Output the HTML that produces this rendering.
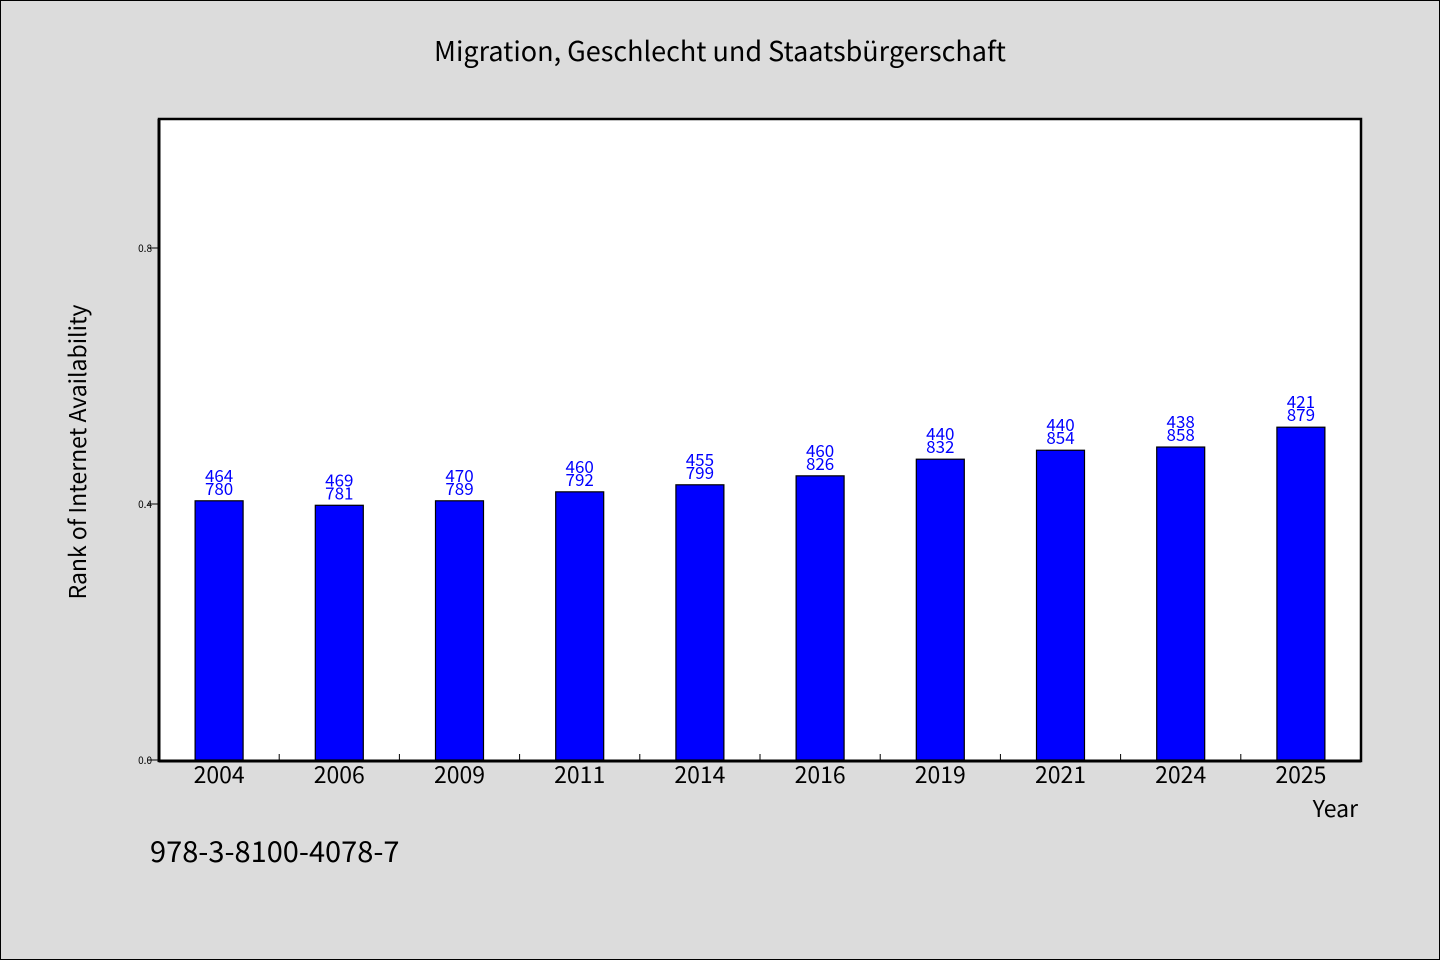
<!DOCTYPE html>
<html><head><meta charset="utf-8"><style>
html,body{margin:0;padding:0;background:#dcdcdc;}
svg{display:block;font-family:"WenQuanYi Zen Hei","Noto Sans CJK SC","Liberation Sans",sans-serif;}
</style></head><body>
<svg id="chart" width="1440" height="960" viewBox="0 0 1440 960">
<rect x="0.5" y="0.5" width="1439" height="959" fill="#dcdcdc" stroke="#000"/>
<text x="720" y="61" text-anchor="middle" font-size="27">Migration, Geschlecht und Staatsbürgerschaft</text>
<rect x="159" y="119" width="1202" height="642" fill="#fff" stroke="#000" stroke-width="2.5"/>
<g id="bars"></g>
<line x1="159" y1="761" x2="1361" y2="761" stroke="#000" stroke-width="3"/>
<line x1="159" y1="119" x2="159" y2="762" stroke="#000" stroke-width="3"/>
<g id="axes"></g>
<text x="86" y="452" text-anchor="middle" font-size="23" transform="rotate(-90 86 452)">Rank of Internet Availability</text>
<text x="1358" y="817" text-anchor="end" font-size="23">Year</text>
<text x="150" y="862" font-size="29">978-3-8100-4078-7</text>
</svg>
<script>
const categories=["2004","2006","2009","2011","2014","2016","2019","2021","2024","2025"];
const values=[0.405,0.398,0.405,0.419,0.430,0.444,0.470,0.484,0.489,0.520];
const labelTop=["464","469","470","460","455","460","440","440","438","421"];
const labelBottom=["780","781","789","792","799","826","832","854","858","879"];
const yTicks=[0.0,0.4,0.8];
const yTickLabels=["0.0","0.4","0.8"];
const NS="http://www.w3.org/2000/svg";
const X0=159,X1=1361,Y0=760,Y1=120,yMax=1.0;
const band=(X1-X0)/categories.length;
function xc(i){return X0+band*(i+0.5);}
function y(v){return Y0-(v/yMax)*(Y0-Y1);}
function mk(tag,attrs,parent,text){const e=document.createElementNS(NS,tag);for(const k in attrs)e.setAttribute(k,attrs[k]);if(text!==undefined)e.textContent=text;parent.appendChild(e);return e;}
const bars=document.getElementById('bars'),axes=document.getElementById('axes');
categories.forEach((c,i)=>{
  const top=y(values[i]);
  const r=mk('rect',{x:xc(i)-24,y:top,width:48,height:Y0-top,fill:'#0000ff',stroke:'#000','stroke-width':1.2},bars);
  
  
  const t1=mk('text',{x:xc(i),y:top-19,'text-anchor':'middle','font-size':17,fill:'#0000ff'},bars,labelTop[i]);
  
  
  const t2=mk('text',{x:xc(i),y:top-6,'text-anchor':'middle','font-size':17,fill:'#0000ff'},bars,labelBottom[i]);
  
  
  const xl=mk('text',{x:xc(i),y:783,'text-anchor':'middle','font-size':23},axes,c);
  
  
  if(i>0){const tk=mk('line',{x1:X0+band*i,x2:X0+band*i,y1:760,y2:754,stroke:'#000','stroke-width':1},axes);
  
  }
});
yTicks.forEach((v,i)=>{
  const tk=mk('line',{x1:148,x2:159,y1:y(v),y2:y(v),stroke:'#000','stroke-width':1},axes);
  
  
  const tl=mk('text',{x:152,y:y(v)+4,'text-anchor':'end','font-size':10},axes,yTickLabels[i]);
  
  
});
</script>
</body></html>
